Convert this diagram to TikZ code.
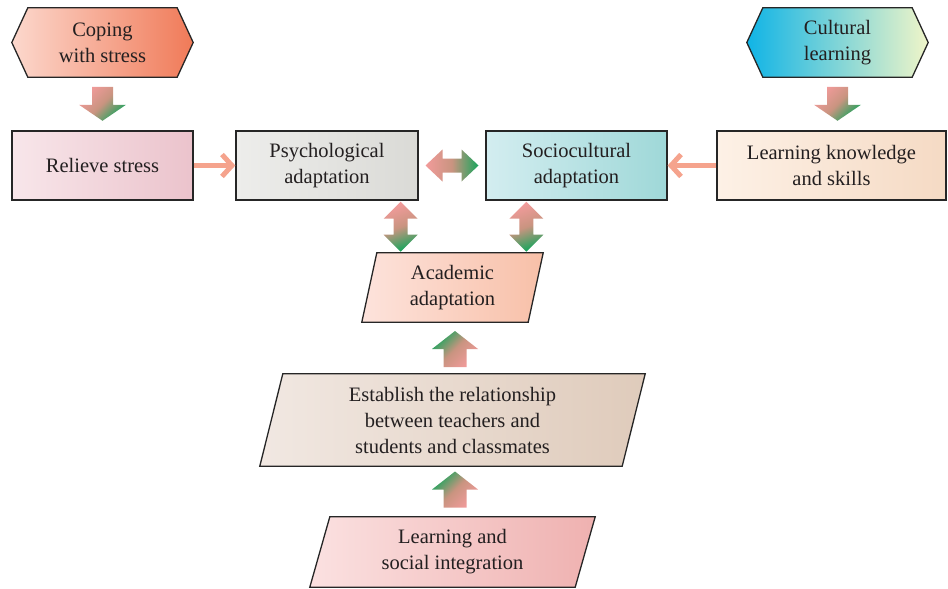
\documentclass[tikz,border=0pt]{standalone}
\usepackage{fontspec}
\setmainfont{Liberation Serif}
\usetikzlibrary{calc,backgrounds,arrows.meta}
\definecolor{apink}{HTML}{F29B9B}
\definecolor{agreen}{HTML}{17A55C}
\definecolor{amid}{HTML}{C99480}
\definecolor{salmon}{HTML}{F5A38D}
\definecolor{txt}{HTML}{231F20}
\definecolor{copeL}{HTML}{FCD8CD}\definecolor{copeR}{HTML}{F07A58}
\definecolor{cultL}{HTML}{10B4E6}\definecolor{cultR}{HTML}{F0F5C8}
\definecolor{relL}{HTML}{F8E6EA}\definecolor{relR}{HTML}{EBC3CC}
\definecolor{psyL}{HTML}{EDEDEB}\definecolor{psyR}{HTML}{DADAD6}
\definecolor{socL}{HTML}{D3EDF0}\definecolor{socR}{HTML}{9FD8D8}
\definecolor{lksL}{HTML}{FDF1E6}\definecolor{lksR}{HTML}{F5DAC4}
\definecolor{acaL}{HTML}{FDE3DC}\definecolor{acaR}{HTML}{F8C0A8}
\definecolor{estL}{HTML}{F1E8E2}\definecolor{estR}{HTML}{DFCBBB}
\definecolor{lsiL}{HTML}{FBE1E1}\definecolor{lsiR}{HTML}{EFB1B0}
\tikzset{
  lbl/.style={inner sep=0pt, align=center, text=txt, font=\fontsize{20.5}{26}\selectfont},
  boxline/.style={draw=black!85, line width=1.3pt},
  rectbox/.style={lbl, boxline, left color=#1L, right color=#1R},
  linkarrow/.style={draw=salmon, line width=5pt, -{Straight Barb[length=10pt,width=22pt]}},
  fatdown/.pic={\shade[top color=apink,bottom color=agreen,middle color=amid,shading angle=45]
     (-10.5,-17)--(10.5,-17)--(10.5,1)--(23.5,1)--(0,17)--(-23.5,1)--(-10.5,1)--cycle;},
  fatup/.pic={\shade[top color=agreen,bottom color=apink,middle color=amid,shading angle=45]
     (-11.5,18)--(11.5,18)--(11.5,0)--(23,0)--(0,-18)--(-23,0)--(-11.5,0)--cycle;},
  dblh/.pic={\shade[left color=apink,right color=agreen,middle color=amid]
     (-26.5,0)--(-9.5,-16)--(-9.5,-7)--(9.5,-7)--(9.5,-16)--(26.5,0)--(9.5,16)--(9.5,7)--(-9.5,7)--(-9.5,16)--cycle;},
  dblv/.pic={\shade[top color=apink,bottom color=agreen,middle color=amid,shading angle=20]
     (0,-25)--(17,-8)--(7,-8)--(7,8)--(17,8)--(0,25)--(-17,8)--(-7,8)--(-7,-8)--(-17,-8)--cycle;}
}
\begin{document}
\begin{tikzpicture}[x=1pt,y=-1pt]
\useasboundingbox (0,0) rectangle (948,589);
% hexagons: text nodes, shapes on background layer
\node[lbl, minimum width=181pt, minimum height=69pt] (cope) at (102.5,42.5) {Coping\\with stress};
\node[lbl, minimum width=181pt, minimum height=69pt] (cult) at (837.5,42.5) {Cultural\\learning};
% rectangles
\node[rectbox=rel, minimum width=181pt, minimum height=69pt] (relieve) at (102.5,165.5) {Relieve stress};
\node[rectbox=psy, minimum width=182pt, minimum height=69pt] (psych) at (327,165.5) {Psychological\\adaptation};
\node[rectbox=soc, minimum width=181pt, minimum height=69pt] (socio) at (576.5,165.5) {Sociocultural\\adaptation};
\node[rectbox=lks, minimum width=229pt, minimum height=69pt] (lks) at (831.5,165.5) {Learning knowledge\\and skills};
% parallelograms
\node[lbl, minimum width=181pt, minimum height=69pt] (acad) at (452.5,287.5) {Academic\\adaptation};
\node[lbl, minimum width=385pt, minimum height=92pt] (est) at (452.5,420) {Establish the relationship\\between teachers and\\students and classmates};
\node[lbl, minimum width=285pt, minimum height=70pt] (lsi) at (452.5,552) {Learning and\\social integration};

\begin{pgfonlayer}{background}
  \shade[boxline, left color=copeL, right color=copeR]
    (cope.west) -- ($(cope.north west)+(16,0)$) -- ($(cope.north east)+(-16,0)$) -- (cope.east)
    -- ($(cope.south east)+(-16,0)$) -- ($(cope.south west)+(16,0)$) -- cycle;
  \shade[boxline, left color=cultL, right color=cultR]
    (cult.west) -- ($(cult.north west)+(16,0)$) -- ($(cult.north east)+(-16,0)$) -- (cult.east)
    -- ($(cult.south east)+(-16,0)$) -- ($(cult.south west)+(16,0)$) -- cycle;
  \shade[boxline, left color=acaL, right color=acaR]
    ($(acad.north west)+(15,0)$) -- (acad.north east) -- ($(acad.south east)+(-15,0)$) -- (acad.south west) -- cycle;
  \shade[boxline, left color=estL, right color=estR]
    ($(est.north west)+(23,0)$) -- (est.north east) -- ($(est.south east)+(-23,0)$) -- (est.south west) -- cycle;
  \shade[boxline, left color=lsiL, right color=lsiR]
    ($(lsi.north west)+(20,0)$) -- (lsi.north east) -- ($(lsi.south east)+(-20,0)$) -- (lsi.south west) -- cycle;
\end{pgfonlayer}

% line connectors
\draw[linkarrow] (relieve.east) -- (psych.west);
\draw[linkarrow] (lks.west) -- (socio.east);

% fat arrows
\coordinate (d1) at ($(cope.south)!0.5!(relieve.north)$);
\coordinate (d2) at ($(cult.south)!0.5!(cult.south|-lks.north)$);
\coordinate (h1) at ($(psych.east)!0.5!(socio.west)$);
\coordinate (v1) at ($(psych.south east)!0.5!(psych.south east|-acad.north)+(-18,0)$);
\coordinate (v2) at ($(socio.south west)!0.5!(socio.south west|-acad.north)+(41,0)$);
\coordinate (u1) at ($(acad.south)!0.5!(est.north)+(2.5,1)$);
\coordinate (u2) at ($(est.south)!0.5!(lsi.north)+(2.5,-2)$);
\pic at (d1) {fatdown};
\pic at (d2) {fatdown};
\pic at (h1) {dblh};
\pic at (v1) {dblv};
\pic at (v2) {dblv};
\pic at (u1) {fatup};
\pic at (u2) {fatup};
\end{tikzpicture}
\end{document}
